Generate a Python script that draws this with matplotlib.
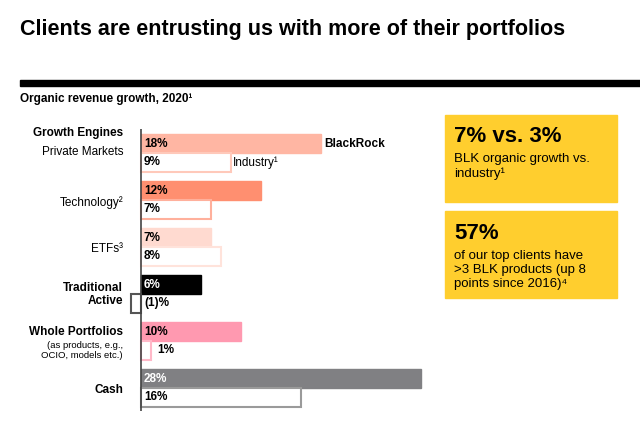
import matplotlib
matplotlib.use("Agg")
import matplotlib.pyplot as plt
from matplotlib.patches import Rectangle

plt.rcParams['font.family'] = ['Liberation Sans', 'DejaVu Sans']

categories = ["Private Markets", "Technology", "ETFs", "Traditional Active", "Whole Portfolios", "Cash"]
blackrock = [18, 12, 7, 6, 10, 28]
industry = [9, 7, 8, -1, 1, 16]
blk_labels = ["18%", "12%", "7%", "6%", "10%", "28%"]
ind_labels = ["9%", "7%", "8%", "(1)%", "1%", "16%"]
colors = ["#FFB6A3", "#FF8F70", "#FFDAD0", "#000000", "#FF99B0", "#808083"]
ind_edges = ["#FFC9BA", "#FFB09C", "#FFE3DB", "#555555", "#FFB8C8", "#9A9A9A"]
blk_text = ["black", "black", "black", "white", "black", "white"]

fig = plt.figure(figsize=(6.4, 4.29), dpi=100)
W, H = 640, 429
def fx(p): return p / W
def fy(p): return 1 - p / H

fig.text(fx(20), fy(30), "Clients are entrusting us with more of their portfolios",
         fontsize=15.5, fontweight='bold', va='center', ha='left')
fig.add_artist(Rectangle((fx(20), fy(86)), fx(620), 6 / H, color='black', transform=fig.transFigure))
fig.text(fx(20), fy(99), "Organic revenue growth, 2020¹", fontsize=8.5, fontweight='bold', va='center')

ax = fig.add_axes([fx(101), fy(411), 340 / W, 282 / H])
ax.set_xlim(-4, 30)
ax.set_ylim(5.49, -0.51)
ax.axis('off')
h = 0.404
for i in range(len(categories)):
    ax.barh(i - 0.2, blackrock[i], height=h, color=colors[i], edgecolor=colors[i], linewidth=1)
    ax.barh(i + 0.2, industry[i], height=h, color='white', edgecolor=ind_edges[i], linewidth=1.5)
    ax.text(0.3, i - 0.2, blk_labels[i], fontsize=8.5, fontweight='bold', va='center', color=blk_text[i])
    ix = 0.3 if industry[i] > 2 or industry[i] < 0 else industry[i] + 0.6
    ax.text(ix, i + 0.2, ind_labels[i], fontsize=8.5, fontweight='bold', va='center')
ax.plot([0, 0], [-0.51, 5.49], color='#444444', lw=1.2)
ax.text(18.3, -0.2, "BlackRock", fontsize=8.5, fontweight='bold', va='center')
ax.text(9.2, 0.2, "Industry¹", fontsize=8.5, va='center')

# category labels
lx = 123
fig.text(fx(lx), fy(133), "Growth Engines", fontsize=8.5, fontweight='bold', ha='right', va='center')
fig.text(fx(lx), fy(152), "Private Markets", fontsize=8.5, ha='right', va='center')
fig.text(fx(lx), fy(203), "Technology²", fontsize=8.5, ha='right', va='center')
fig.text(fx(lx), fy(249), "ETFs³", fontsize=8.5, ha='right', va='center')
fig.text(fx(lx), fy(288), "Traditional", fontsize=8.5, fontweight='bold', ha='right', va='center')
fig.text(fx(lx), fy(301), "Active", fontsize=8.5, fontweight='bold', ha='right', va='center')
fig.text(fx(lx), fy(332), "Whole Portfolios", fontsize=8.5, fontweight='bold', ha='right', va='center')
fig.text(fx(lx), fy(345), "(as products, e.g.,", fontsize=6.8, ha='right', va='center')
fig.text(fx(lx), fy(355), "OCIO, models etc.)", fontsize=6.8, ha='right', va='center')
fig.text(fx(lx), fy(390), "Cash", fontsize=8.5, fontweight='bold', ha='right', va='center')

# yellow boxes
yellow = "#FFCE2E"
fig.add_artist(Rectangle((fx(445), fy(202)), 172 / W, 87 / H, color=yellow, transform=fig.transFigure))
fig.add_artist(Rectangle((fx(445), fy(298)), 172 / W, 87 / H, color=yellow, transform=fig.transFigure))
fig.text(fx(454), fy(137), "7% vs. 3%", fontsize=16, fontweight='bold', va='center')
fig.text(fx(454), fy(159), "BLK organic growth vs.", fontsize=9.5, va='center')
fig.text(fx(454), fy(174), "industry¹", fontsize=9.5, va='center')
fig.text(fx(454), fy(234), "57%", fontsize=16, fontweight='bold', va='center')
fig.text(fx(454), fy(256), "of our top clients have", fontsize=9.5, va='center')
fig.text(fx(454), fy(270), ">3 BLK products (up 8", fontsize=9.5, va='center')
fig.text(fx(454), fy(284), "points since 2016)⁴", fontsize=9.5, va='center')

fig.savefig("out.png", dpi=100)
